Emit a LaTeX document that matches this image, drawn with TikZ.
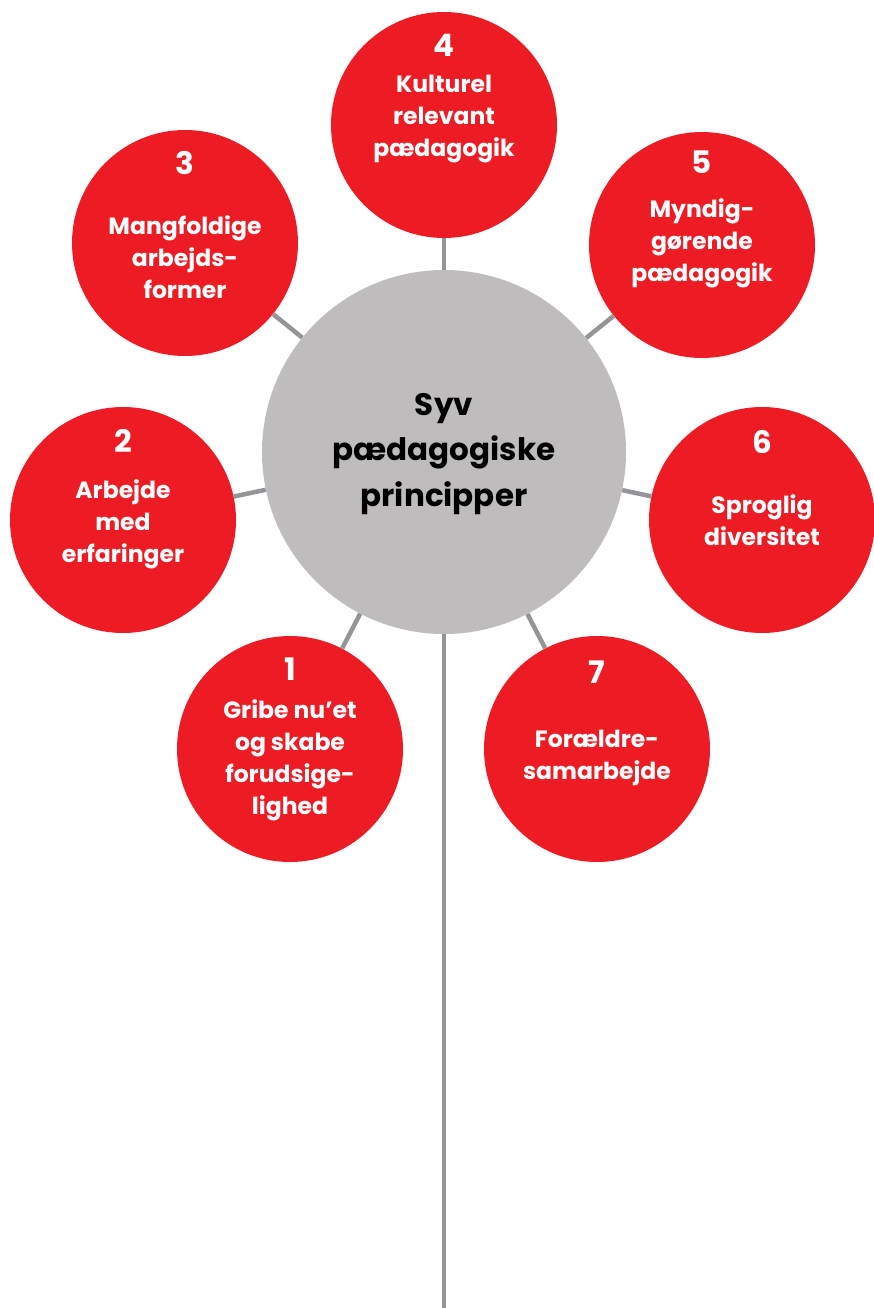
\documentclass[tikz,border=0pt]{standalone}
\usepackage{fontspec}
\setmainfont{Poppins}
\definecolor{cred}{HTML}{ED1C24}
\definecolor{cgrey}{HTML}{BFBCBD}
\definecolor{cline}{HTML}{939598}
\begin{document}
\begin{tikzpicture}[x=1pt,y=-1pt,
 redc/.style={circle,fill=cred,minimum size=226pt,inner sep=0pt},
 hub/.style={circle,fill=cgrey,minimum size=364pt,inner sep=0pt},
 conn/.style={draw=cline,line width=4.5pt},
 num/.style={text=white,font=\bfseries\fontsize{31}{31}\selectfont,anchor=base,inner sep=0pt},
 lbl/.style={text=white,font=\bfseries\fontsize{23.5}{32}\selectfont,anchor=base,inner sep=0pt},
 hubtxt/.style={text=black,font=\bfseries\fontsize{31}{46}\selectfont,anchor=base,inner sep=0pt}]
\useasboundingbox (0,0) rectangle (873,1308);
\node[hub] (c) at (444,452) {};
\node[redc] (r1) at (290,749) {};
\node[redc] (r2) at (123,520) {};
\node[redc] (r3) at (185,243) {};
\node[redc] (r4) at (444,125) {};
\node[redc] (r5) at (702,245) {};
\node[redc] (r6) at (762,520) {};
\node[redc] (r7) at (597,749) {};
\coordinate (stemend) at (444,1308);
\foreach \r in {r1,r2,r3,r4,r5,r6,r7} \draw[conn] (c) -- (\r);
\draw[conn] (c) -- (stemend);
% hub text
\node[hubtxt] (h1) at (444,415) {Syv};
\node[hubtxt] (h2) at (444,460) {pædagogiske};
\node[hubtxt] (h3) at (444,506) {principper};
% 4
\node[num] (n4) at (444,57) {4};
\node[lbl] (t4a) at (444,93) {Kulturel};
\node[lbl] (t4b) at (444,125) {relevant};
\node[lbl] (t4c) at (444,157) {pædagogik};
% 3
\node[num] (n3) at (185,175) {3};
\node[lbl] (t3a) at (185,234) {Mangfoldige};
\node[lbl] (t3b) at (185,266) {arbejds-};
\node[lbl] (t3c) at (185,298) {former};
% 5
\node[num] (n5) at (702,174) {5};
\node[lbl] (t5a) at (702,217) {Myndig-};
\node[lbl] (t5b) at (702,249) {gørende};
\node[lbl] (t5c) at (702,281) {pædagogik};
% 2
\node[num] (n2) at (123,452) {2};
\node[lbl] (t2a) at (123,498) {Arbejde};
\node[lbl] (t2b) at (123,530) {med};
\node[lbl] (t2c) at (123,562) {erfaringer};
% 6
\node[num] (n6) at (762,453) {6};
\node[lbl] (t6a) at (762,513) {Sproglig};
\node[lbl] (t6b) at (762,545) {diversitet};
% 1
\node[num] (n1) at (290,680) {1};
\node[lbl] (t1a) at (290,718) {Gribe nu’et};
\node[lbl] (t1b) at (290,750) {og skabe};
\node[lbl] (t1c) at (290,782) {forudsige-};
\node[lbl] (t1d) at (290,814) {lighed};
% 7
\node[num] (n7) at (597,683) {7};
\node[lbl] (t7a) at (597,747) {Forældre-};
\node[lbl] (t7b) at (597,779) {samarbejde};
\end{tikzpicture}
\end{document}
